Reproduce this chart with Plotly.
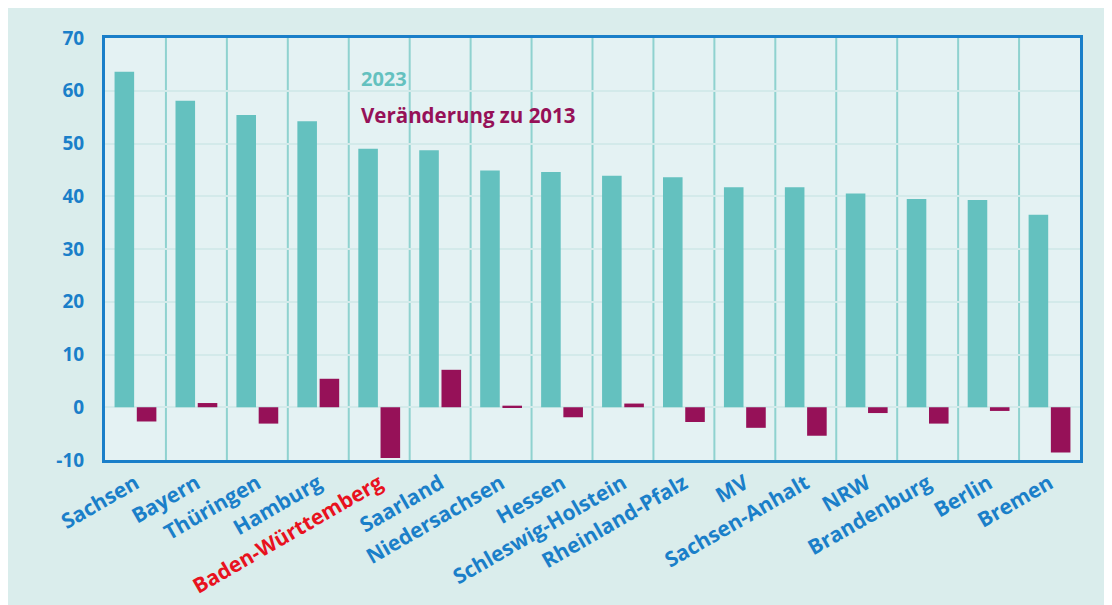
import plotly.graph_objects as go

# Bundesländer, sorted by 2023 value
laender = [
    "Sachsen", "Bayern", "Thüringen", "Hamburg", "Baden-Württemberg",
    "Saarland", "Niedersachsen", "Hessen", "Schleswig-Holstein",
    "Rheinland-Pfalz", "MV", "Sachsen-Anhalt", "NRW", "Brandenburg",
    "Berlin", "Bremen",
]
werte_2023 = [63.6, 58.1, 55.4, 54.2, 49.0, 48.7, 44.9, 44.6, 43.9,
              43.6, 41.7, 41.7, 40.5, 39.5, 39.3, 36.5]
veraenderung = [-2.7, 0.8, -3.1, 5.4, -9.6, 7.1, 0.3, -1.9, 0.7,
                -2.8, -3.9, -5.4, -1.1, -3.1, -0.7, -8.6]
y_ticks = [-10, 0, 10, 20, 30, 40, 50, 60, 70]

TEAL = "#64c1bf"
MAROON = "#961158"
BLUE = "#1a7fc9"
RED = "#e8121e"
FONT = "Open Sans"

fig = go.Figure()
fig.add_trace(go.Bar(x=laender, y=werte_2023, name="2023",
                     marker_color=TEAL, marker_line_width=0))
fig.add_trace(go.Bar(x=laender, y=veraenderung, name="Veränderung zu 2013",
                     marker_color=MAROON, marker_line_width=0))

# tick labels: Baden-Württemberg highlighted in red
ticktext = [
    f'<span style="color:{RED}">{n}</span>' if n == "Baden-Württemberg" else n
    for n in laender
]

# vertical separators between categories
for i in range(1, len(laender)):
    fig.add_vline(x=i - 0.5, line_color="#8fd2cf", line_width=2, layer="below")

# text "legend" inside the plot
fig.add_annotation(text="<b>2023</b>", xref="paper", yref="paper",
                   x=0.2605, y=0.905, xanchor="left", yanchor="middle",
                   showarrow=False,
                   font=dict(family=FONT, size=20, color=TEAL))
fig.add_annotation(text="<b>Veränderung zu 2013</b>", xref="paper", yref="paper",
                   x=0.2605, y=0.8175, xanchor="left", yanchor="middle",
                   showarrow=False,
                   font=dict(family=FONT, size=20.5, color=MAROON))

fig.update_layout(
    barmode="group",
    bargap=0.27,
    bargroupgap=0.12,
    showlegend=False,
    width=1104, height=597,
    margin=dict(l=97, r=32, t=30, b=145),
    paper_bgcolor="#daedec",
    plot_bgcolor="#e4f2f3",
    font=dict(family=FONT),
)
fig.update_xaxes(
    tickvals=laender, ticktext=ticktext, tickangle=-30, automargin=False,
    tickfont=dict(family=FONT, size=21, color=BLUE, weight="bold"),
    showgrid=False, showline=True, linecolor=BLUE, linewidth=3, mirror=True,
    range=[-0.5, len(laender) - 0.5],
)
fig.update_yaxes(
    range=[-10, 70], tickvals=y_ticks, ticktext=[str(v) for v in y_ticks],
    automargin=False,
    tickfont=dict(family=FONT, size=19, color=BLUE, weight="bold"),
    ticklabelstandoff=14,
    showgrid=True, gridcolor="#d3eaea", gridwidth=2,
    zeroline=True, zerolinecolor="#d3eaea", zerolinewidth=2,
    showline=True, linecolor=BLUE, linewidth=3, mirror=True,
)

fig.write_html("out.html")
